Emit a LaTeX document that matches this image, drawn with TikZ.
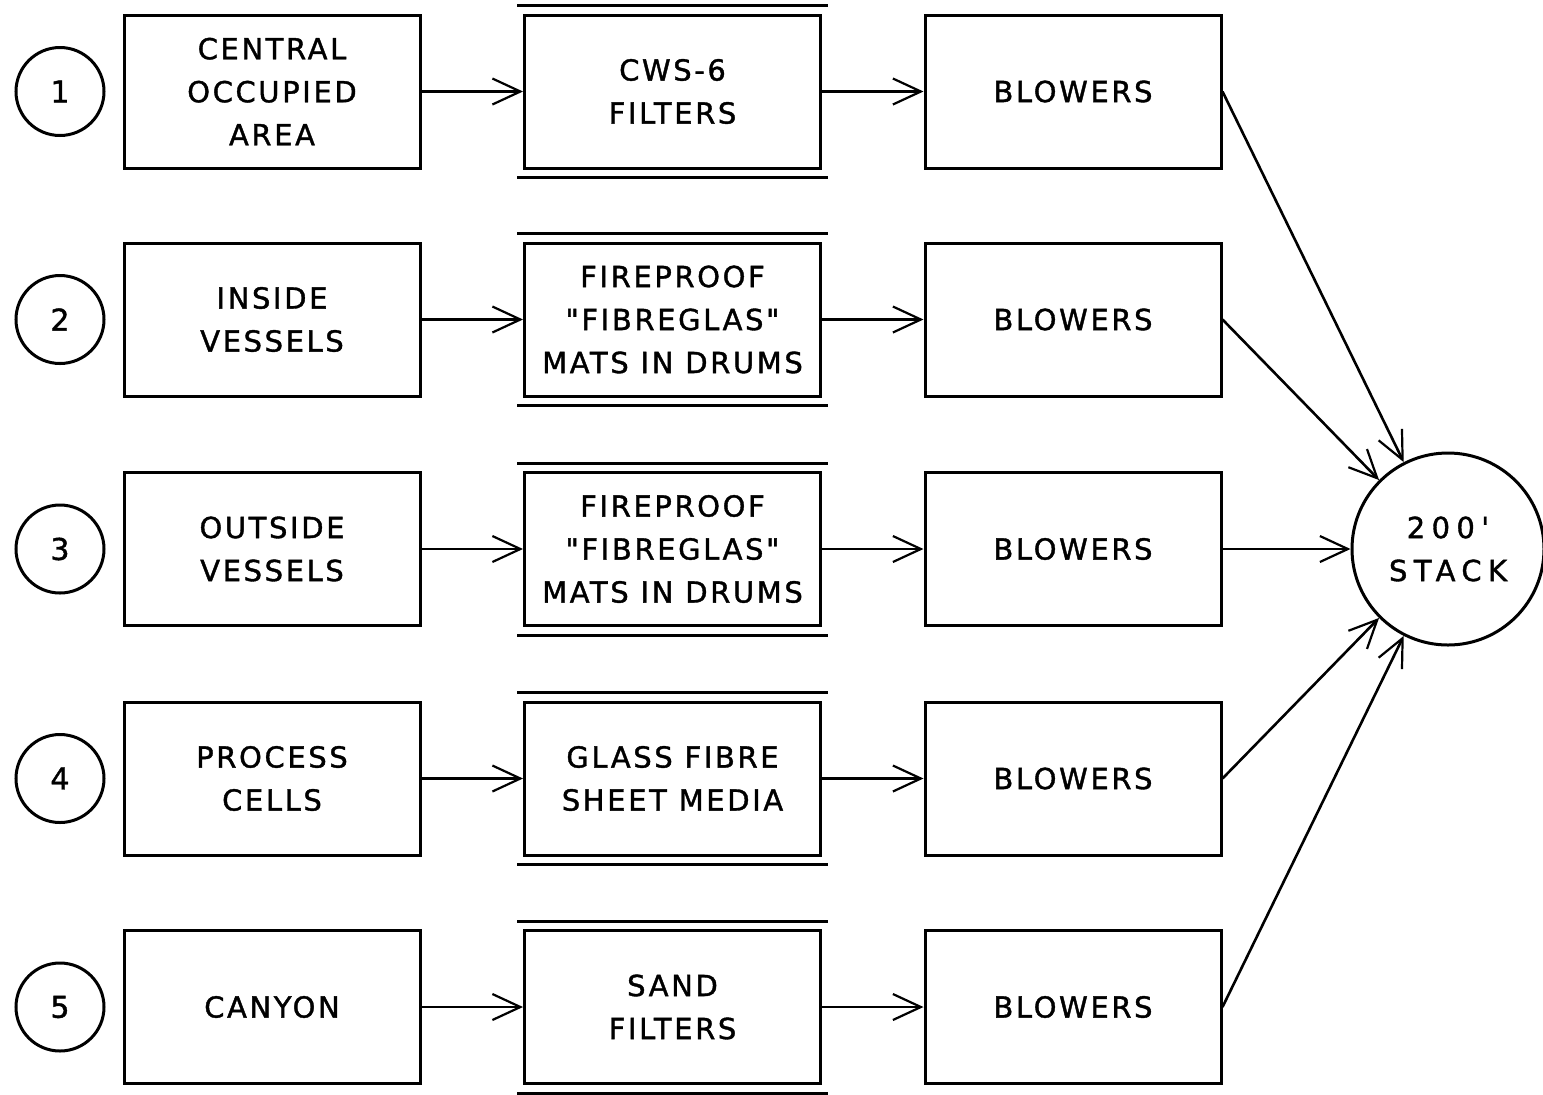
\documentclass[tikz,border=0pt]{standalone}
\usepackage{fontspec}
\newfontfamily\lbl[LetterSpace=9,FakeBold=1.3]{DejaVu Sans}
\newfontfamily\wide[LetterSpace=22,FakeBold=1.3]{DejaVu Sans}
\usetikzlibrary{arrows.meta}
\begin{document}
\begin{tikzpicture}[x=0.5pt,y=-0.5pt,
  box/.style={draw,line width=1.5pt,minimum width=148pt,minimum height=76.5pt,
    align=center,font=\lbl\fontsize{14.5}{21.5}\selectfont,inner sep=0pt},
  num/.style={draw,circle,line width=1.5pt,minimum size=44pt,inner sep=0pt,
    font=\lbl\fontsize{15}{17}\selectfont},
  flow/.style={line width=1.3pt,-{Straight Barb[length=14pt,width=13pt,line width=1.1pt]}},
  rule/.style={line width=1.5pt}]
\useasboundingbox (0,0) rectangle (1543,1094);
\foreach \i/\y/\a/\b in {
  1/91.5/{CENTRAL\\OCCUPIED\\AREA}/{CWS-6\\FILTERS},
  2/319.5/{INSIDE\\VESSELS}/{FIREPROOF\\"FIBREGLAS"\\MATS IN DRUMS},
  3/549/{OUTSIDE\\VESSELS}/{FIREPROOF\\"FIBREGLAS"\\MATS IN DRUMS},
  4/778.5/{PROCESS\\CELLS}/{GLASS FIBRE\\SHEET MEDIA},
  5/1007/{CANYON}/{SAND\\FILTERS}}{
  \node[num] (n\i) at (60,\y) {\i};
  \node[box] (s\i) at (272,\y) {\a};
  \node[box] (f\i) at (672.5,\y) {\b};
  \node[box] (b\i) at (1073,\y) {BLOWERS};
  \draw[rule] ([xshift=-3pt,yshift=4pt]f\i.north west) -- ([xshift=3pt,yshift=4pt]f\i.north east);
  \draw[rule] ([xshift=-3pt,yshift=-4pt]f\i.south west) -- ([xshift=3pt,yshift=-4pt]f\i.south east);
  \draw[flow] (s\i) -- (f\i);
  \draw[flow] (f\i) -- (b\i);
}
\node[num,minimum size=96pt,font=\wide\fontsize{14.5}{21.5}\selectfont,align=center] (stack) at (1448,549) {200'\\STACK};
\draw[flow] (b1.east) -- (stack.117);
\draw[flow] (b2.east) -- (stack.135);
\draw[flow] (b3.east) -- (stack.west);
\draw[flow] (b4.east) -- (stack.225);
\draw[flow] (b5.east) -- (stack.243);
\end{tikzpicture}
\end{document}
